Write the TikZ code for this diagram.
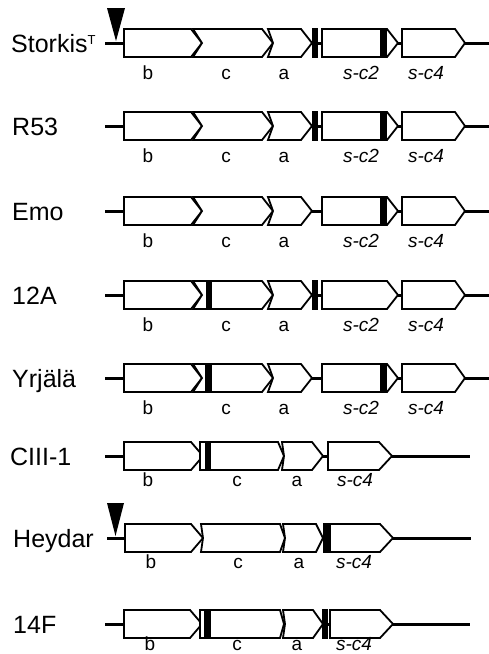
\documentclass[tikz,border=0pt]{standalone}
\usepackage{fontspec}
\setmainfont{Liberation Sans}
\tikzset{
  genestyle/.style={draw=black, line width=1.8pt, fill=white, line join=miter},
  backbone/.style={draw=black, line width=3pt},
  barstyle/.style={fill=black},
  insmark/.style={fill=black},
  lab/.style={font=\fontsize{19}{21}\selectfont, anchor=base, inner sep=0pt},
  ilab/.style={font=\fontsize{19}{21}\selectfont\itshape, anchor=base, inner sep=0pt},
  strain/.style={font=\fontsize{25}{29}\selectfont, anchor=base west, inner sep=0pt}
}
% #1 y, #2 left x, #3 notch depth, #4 end of body, #5 tip
\newcommand\genebox[5]{%
  \draw[genestyle] (#2,#1-14) -- (#4,#1-14) -- (#5,#1) -- (#4,#1+14) -- (#2,#1+14) -- (#2+#3,#1) -- cycle;}
% #1 y, #2 x1, #3 x2
\newcommand\genebar[3]{\fill[barstyle] (#2,#1-15) rectangle (#3,#1+15);}
\begin{document}
\begin{tikzpicture}[x=1pt,y=-1pt]
\useasboundingbox (0,0) rectangle (489,654);

% ---------- Storkis ----------
\node[strain] (n1) at (11,52) {Storkis\raisebox{7.5pt}{\fontsize{13}{13}\selectfont T}};
\coordinate (s1) at (105,43); \coordinate (e1) at (489,43);
\draw[backbone] (s1) -- (e1);
\genebox{43}{124}{0}{191}{202}
\genebox{43}{193}{9}{262}{273}
\genebox{43}{268}{5}{301}{312}
\genebox{43}{322}{0}{387}{398}
\genebox{43}{402}{0}{455}{465}
\genebar{43}{312}{318}
\genebar{43}{380}{387}
\fill[insmark] (107,8) -- (125,8) -- (116,41) -- cycle;
\node[lab] (b1) at (148,79) {b};
\node[lab] (c1) at (226,79) {c};
\node[lab] (a1) at (284,79) {a};
\node[ilab] (sc21) at (361,79) {s-c2};
\node[ilab] (sc41) at (426,79) {s-c4};

% ---------- R53 ----------
\node[strain] (n2) at (12,135) {R53};
\coordinate (s2) at (105,126); \coordinate (e2) at (489,126);
\draw[backbone] (s2) -- (e2);
\genebox{126}{124}{0}{191}{202}
\genebox{126}{193}{9}{262}{273}
\genebox{126}{268}{5}{301}{312}
\genebox{126}{322}{0}{387}{398}
\genebox{126}{402}{0}{455}{465}
\genebar{126}{312}{318}
\genebar{126}{380}{387}
\node[lab] (b2) at (148,162) {b};
\node[lab] (c2) at (226,162) {c};
\node[lab] (a2) at (284,162) {a};
\node[ilab] (sc22) at (361,162) {s-c2};
\node[ilab] (sc42) at (426,162) {s-c4};

% ---------- Emo ----------
\node[strain] (n3) at (12,220) {Emo};
\coordinate (s3) at (105,211); \coordinate (e3) at (489,211);
\draw[backbone] (s3) -- (e3);
\genebox{211}{124}{0}{191}{202}
\genebox{211}{193}{9}{262}{273}
\genebox{211}{268}{5}{301}{312}
\genebox{211}{322}{0}{387}{398}
\genebox{211}{402}{0}{455}{465}
\genebar{211}{380}{387}
\node[lab] (b3) at (148,247) {b};
\node[lab] (c3) at (226,247) {c};
\node[lab] (a3) at (284,247) {a};
\node[ilab] (sc23) at (361,247) {s-c2};
\node[ilab] (sc43) at (426,247) {s-c4};

% ---------- 12A ----------
\node[strain] (n4) at (12,304) {12A};
\coordinate (s4) at (105,295); \coordinate (e4) at (489,295);
\draw[backbone] (s4) -- (e4);
\genebox{295}{124}{0}{191}{202}
\genebox{295}{193}{9}{262}{273}
\genebox{295}{268}{5}{301}{312}
\genebox{295}{322}{0}{387}{398}
\genebox{295}{402}{0}{455}{465}
\genebar{295}{206}{212}
\genebar{295}{312}{318}
\node[lab] (b4) at (148,331) {b};
\node[lab] (c4) at (226,331) {c};
\node[lab] (a4) at (284,331) {a};
\node[ilab] (sc24) at (361,331) {s-c2};
\node[ilab] (sc44) at (426,331) {s-c4};

% ---------- Yrjala ----------
\node[strain] (n5) at (12,387) {Yrjälä};
\coordinate (s5) at (105,378); \coordinate (e5) at (489,378);
\draw[backbone] (s5) -- (e5);
\genebox{378}{124}{0}{191}{202}
\genebox{378}{193}{9}{262}{273}
\genebox{378}{268}{5}{301}{312}
\genebox{378}{322}{0}{387}{398}
\genebox{378}{402}{0}{455}{465}
\genebar{378}{205}{212}
\genebar{378}{380}{387}
\node[lab] (b5) at (148,414) {b};
\node[lab] (c5) at (226,414) {c};
\node[lab] (a5) at (284,414) {a};
\node[ilab] (sc25) at (361,414) {s-c2};
\node[ilab] (sc45) at (426,414) {s-c4};

% ---------- CIII-1 ----------
\node[strain] (n6) at (10,465) {CIII-1};
\coordinate (s6) at (105,456); \coordinate (e6) at (470,456);
\draw[backbone] (s6) -- (e6);
\genebox{456}{124}{0}{191}{203}
\genebox{456}{200}{0}{278}{284}
\genebox{456}{282}{2}{312}{323}
\genebox{456}{328}{0}{379}{392}
\genebar{456}{205}{211}
\node[lab] (b6) at (148,486) {b};
\node[lab] (c6) at (237,486) {c};
\node[lab] (a6) at (297,486) {a};
\node[ilab] (sc46) at (355,486) {s-c4};

% ---------- Heydar ----------
\node[strain] (n7) at (13,547) {Heydar};
\coordinate (s7) at (107,538); \coordinate (e7) at (471,538);
\draw[backbone] (s7) -- (e7);
\genebox{538}{125}{0}{191}{203}
\genebox{538}{201}{2}{280}{285}
\genebox{538}{283}{2}{316}{323}
\genebox{538}{330}{0}{380}{393}
\genebar{538}{323}{329}
\fill[insmark] (107,503) -- (124,503) -- (115.5,536) -- cycle;
\node[lab] (b7) at (151,568) {b};
\node[lab] (c7) at (238,568) {c};
\node[lab] (a7) at (299,568) {a};
\node[ilab] (sc47) at (354,568) {s-c4};

% ---------- 14F ----------
\node[strain] (n8) at (13,633) {14F};
\coordinate (s8) at (105,624); \coordinate (e8) at (470,624);
\draw[backbone] (s8) -- (e8);
\genebox{624}{124}{0}{190}{202}
\genebox{624}{200}{0}{280}{284}
\genebox{624}{283}{2}{313}{323}
\genebox{624}{330}{0}{380}{393}
\genebar{624}{204}{211}
\genebar{624}{322}{328}
\node[lab] (b8) at (150,650) {b};
\node[lab] (c8) at (237,650) {c};
\node[lab] (a8) at (297,650) {a};
\node[ilab] (sc48) at (354,650) {s-c4};
\end{tikzpicture}
\end{document}
